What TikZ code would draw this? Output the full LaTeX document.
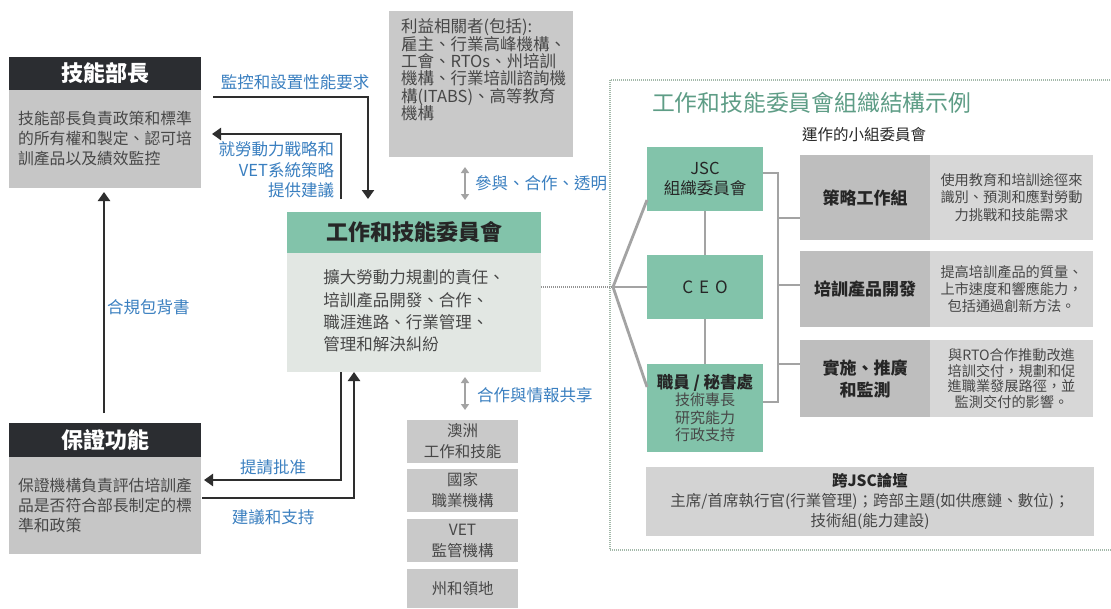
\documentclass[tikz,border=0pt]{standalone}
\usepackage{fontspec}
\setmainfont{Noto Sans CJK TC}
\usetikzlibrary{arrows.meta,calc}
\definecolor{hdrdark}{HTML}{2B2D31}
\definecolor{boxgrey}{HTML}{C6C6C6}
\definecolor{stkgrey}{HTML}{C9C9C9}
\definecolor{cbody}{HTML}{E2E7E3}
\definecolor{jgreen}{HTML}{82C3AA}
\definecolor{subdark}{HTML}{BEBEBE}
\definecolor{sublight}{HTML}{D7D7D7}
\definecolor{forumgrey}{HTML}{D3D3D3}
\definecolor{bodytxt}{HTML}{474747}
\definecolor{titledark}{HTML}{262626}
\definecolor{titlegreen}{HTML}{5E9D86}
\definecolor{bluetxt}{HTML}{3A7FC0}
\definecolor{arrblack}{HTML}{2E2E2E}
\definecolor{conngrey}{HTML}{A3A3A3}
\definecolor{dotgreen}{HTML}{A3B8A9}
\newcommand{\fs}[2]{\fontsize{#1}{#2}\selectfont}
\begin{document}
\begin{tikzpicture}[x=1pt,y=-1pt,
  box/.style={inner sep=0pt, outer sep=0pt, anchor=north west},
  txt/.style={inner sep=0pt, outer sep=0pt},
  arr/.style={draw=arrblack, line width=2.7pt, -{Triangle[length=9pt,width=12pt]}},
  darr/.style={draw=conngrey, line width=2pt, {Triangle[length=6pt,width=8pt]}-{Triangle[length=6pt,width=8pt]}},
  conn/.style={draw=conngrey, line width=2.8pt},
  dotconn/.style={draw=conngrey!90!black, line width=1.8pt, dash pattern=on 1pt off 1pt},
  dotborder/.style={draw=dotgreen, line width=2pt, dash pattern=on 1pt off 1pt},
  lbl/.style={txt, text=bluetxt, font=\fs{16.5}{20.5}}]
\useasboundingbox (0,0) rectangle (1111,608);
\fill[white] (0,0) rectangle (1111,608);

% ---- Minister box
\node[box, fill=hdrdark, text=white, minimum width=192pt, minimum height=33pt, font=\bfseries\fs{22}{26}] (minH) at (9,57) {技能部長};
\node[box, fill=boxgrey, minimum width=192pt, minimum height=98pt, text=bodytxt, align=left, font=\fs{15.8}{20}] (minB) at (9,90) {技能部長負責政策和標準\\的所有權和製定、認可培\\訓產品以及績效監控};

% ---- Assurance box
\node[box, fill=hdrdark, text=white, minimum width=192pt, minimum height=34pt, font=\bfseries\fs{22}{26}] (assH) at (9,423) {保證功能};
\node[box, fill=boxgrey, minimum width=192pt, minimum height=97pt, text=bodytxt, align=left, font=\fs{15.8}{20}] (assB) at (9,457) {保證機構負責評估培訓產\\品是否符合部長制定的標\\準和政策};

% ---- Stakeholders
\node[box, fill=stkgrey, minimum width=184pt, minimum height=146pt] (stk) at (389,11) {};
\node[txt, anchor=north west, align=left, text=bodytxt, font=\fs{16.5}{17.3}] (stkT) at (401,19) {利益相關者(包括):\\雇主、行業高峰機構、\\工會、RTOs、州培訓\\機構、行業培訓諮詢機\\構(ITABS)、高等教育\\機構};

% ---- Centre council
\node[box, fill=jgreen, minimum width=254pt, minimum height=41pt, text=titledark, font=\bfseries\fs{22}{26}] (cH) at (287,212) {工作和技能委員會};
\node[box, fill=cbody, minimum width=254pt, minimum height=119pt] (cB) at (287,253) {};
\node[txt, align=left, text=bodytxt, font=\fs{16.5}{22.3}] (cT) at (414,311) {擴大勞動力規劃的責任、\\培訓產品開發、合作、\\職涯進路、行業管理、\\管理和解決糾紛};

% ---- Stack boxes
\node[box, fill=stkgrey, minimum width=111pt, minimum height=43pt, align=center, text=bodytxt, font=\fs{15.5}{21}] (s1) at (407,420) {澳洲\\工作和技能};
\node[box, fill=stkgrey, minimum width=111pt, minimum height=43pt, align=center, text=bodytxt, font=\fs{15.5}{21}] (s2) at (407,469) {國家\\職業機構};
\node[box, fill=stkgrey, minimum width=111pt, minimum height=43pt, align=center, text=bodytxt, font=\fs{15.5}{21}] (s3) at (407,519) {VET\\監管機構};
\node[box, fill=stkgrey, minimum width=111pt, minimum height=39pt, align=center, text=bodytxt, font=\fs{15.5}{21}] (s4) at (407,569) {州和領地};

% ---- Left arrows
\draw[arr] ($(minB.north east)+(12,7)$) -| ($(cH.north west)+(81,-13)$);
\draw[arr] ($(cH.north west)+(54,-13)$) |- ($(minB.north east)+(11,44)$);
\draw[arr] ($(cB.south west)+(54,0)$) |- ($(assB.north east)+(3,23)$);
\draw[arr] ($(assB.north east)+(1,41)$) -| ($(cB.south west)+(67,0)$);
\draw[arr] ($(assH.north west)+(95,-10)$) -- ($(minB.south west)+(95,4)$);

\node[lbl, anchor=center] (lMon) at (295,82) {監控和設置性能要求};
\node[lbl, anchor=east, align=right] (lAdv) at (334,170) {就勞動力戰略和\\VET系統策略\\提供建議};
\node[lbl, anchor=west] (lEnd) at (107,307) {合規包背書};
\node[lbl, anchor=center] (lApp) at (273,467) {提請批准};
\node[lbl, anchor=center] (lSup) at (273,517) {建議和支持};

% ---- grey double arrows
\draw[darr] ($(stk.south west)+(76,10)$) -- ($(cH.north west)+(178,-12)$);
\draw[darr] ($(cB.south west)+(178,5)$) -- ($(s1.north west)+(58,-10)$);
\node[lbl, anchor=west] (lPart) at (475,183) {參與、合作、透明};
\node[lbl, anchor=west] (lShare) at (477,395) {合作與情報共享};

% ---- Right panel
\draw[dotborder] (1112,80) -- (610,80) -- (610,550) -- (1112,550);
\node[txt, anchor=west, text=titlegreen, font=\fs{22.8}{26}] (rTitle) at (652,103) {工作和技能委員會組織結構示例};
\node[txt, anchor=west, text=titledark, font=\fs{15.5}{18}] (subLbl) at (802,135) {運作的小組委員會};

\node[box, fill=jgreen, minimum width=116pt, minimum height=64pt, align=center, text=titledark, font=\fs{16.5}{20}] (jsc) at (647,147) {JSC\\組織委員會};
\node[box, fill=jgreen, minimum width=116pt, minimum height=64pt, text=titledark, font=\fs{17}{20}] (ceo) at (647,255) {C\hspace{6pt}E\hspace{6pt}O};
\node[box, fill=jgreen, minimum width=116pt, minimum height=88pt, align=center, text=bodytxt, font=\fs{15}{17.4}] (sec) at (647,364) {\textcolor{titledark}{\bfseries\fs{16.5}{17.4}職員 / 秘書處}\\技術專長\\研究能力\\行政支持};

\coordinate (fan) at (613,287);
\draw[dotconn] (cB.east |- fan) -- (fan);
\draw[conn] (fan) -- ($(jsc.south west)+(0,-11)$);
\draw[conn] (fan) -- (ceo.west);
\draw[conn] (fan) -- ($(sec.north west)+(0,23)$);
\draw[conn] (jsc.south) -- (ceo.north);
\draw[conn] (ceo.south) -- (sec.north);

% subcommittees
\node[box, fill=subdark, minimum width=130pt, minimum height=85pt, text=titledark, font=\bfseries\fs{17}{20}] (sc1) at (800,155) {策略工作組};
\node[box, fill=sublight, minimum width=163pt, minimum height=85pt, align=center, text=bodytxt, font=\fs{14.2}{17.8}] (sc1d) at (930,155) {使用教育和培訓途徑來\\識別、預測和應對勞動\\力挑戰和技能需求};
\node[box, fill=subdark, minimum width=130pt, minimum height=76pt, text=titledark, font=\bfseries\fs{17}{20}] (sc2) at (800,251) {培訓產品開發};
\node[box, fill=sublight, minimum width=163pt, minimum height=76pt, align=center, text=bodytxt, font=\fs{14.2}{17}] (sc2d) at (930,251) {提高培訓產品的質量、\\上市速度和響應能力，\\包括通過創新方法。};
\node[box, fill=subdark, minimum width=130pt, minimum height=77pt, align=center, text=titledark, font=\bfseries\fs{17}{22}] (sc3) at (800,340) {實施、推廣\\和監測};
\node[box, fill=sublight, minimum width=163pt, minimum height=77pt, align=center, text=bodytxt, font=\fs{14.2}{15.6}] (sc3d) at (930,340) {與RTO合作推動改進\\培訓交付，規劃和促\\進職業發展路徑，並\\監測交付的影響。};

\coordinate (brTop) at ($(jsc.east)+(15,-6)$);
\draw[conn] ($(jsc.east)+(0,-6)$) -- (brTop) |- ($(sec.east)+(0,-6)$);
\draw[conn] (brTop |- {$(sc1.south west)+(0,-22)$}) -- ($(sc1.south west)+(0,-22)$);
\draw[conn] (brTop |- {$(sc2.west)+(0,-4)$}) -- ($(sc2.west)+(0,-4)$);
\draw[conn] (brTop |- {$(sc3.north west)+(0,24)$}) -- ($(sc3.north west)+(0,24)$);

% forum
\node[box, fill=forumgrey, minimum width=448pt, minimum height=69pt, align=center, text=bodytxt, font=\fs{15.5}{20}] (forum) at (646,467) {\textcolor{titledark}{\bfseries 跨JSC論壇}\\主席/首席執行官(行業管理)；跨部主題(如供應鏈、數位)；\\技術組(能力建設)};
\end{tikzpicture}
\end{document}
